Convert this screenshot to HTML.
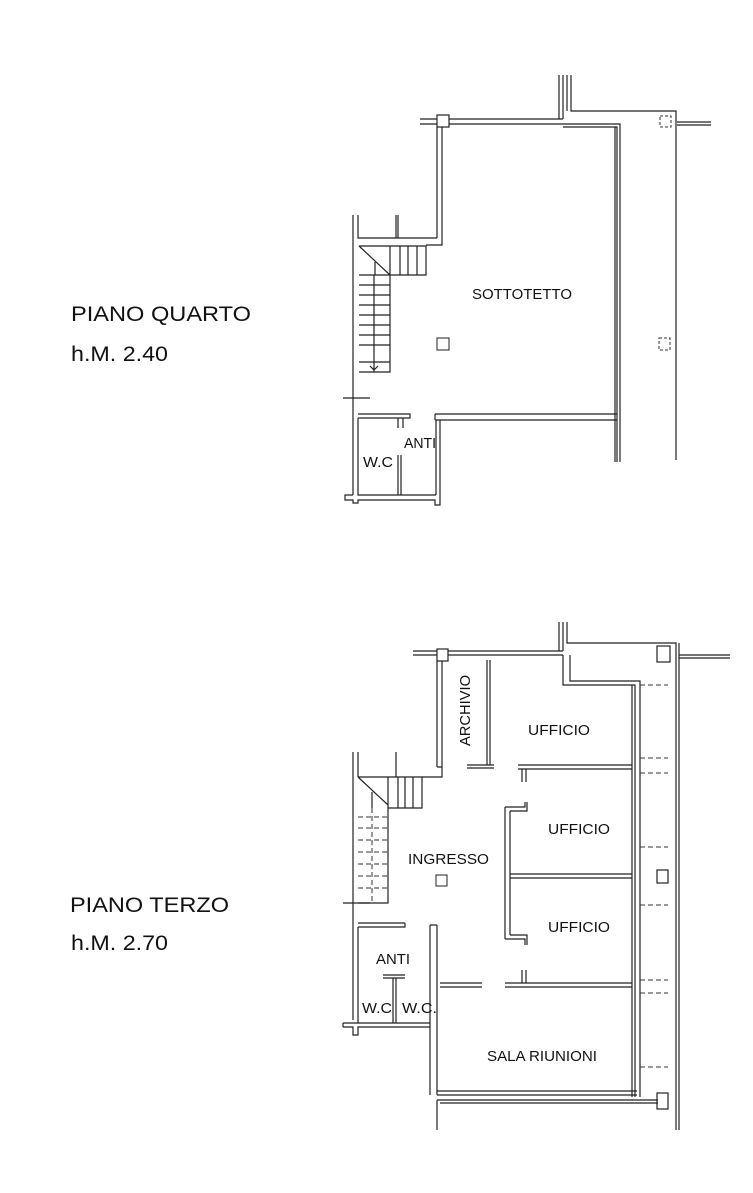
<!DOCTYPE html>
<html><head><meta charset="utf-8"><style>
html,body{margin:0;padding:0;background:#fff;}
svg{display:block;}
text{font-family:"Liberation Sans",sans-serif;fill:#111;}
</style></head><body>
<svg width="753" height="1193" viewBox="0 0 753 1193" xmlns="http://www.w3.org/2000/svg">
<g fill="none" stroke="#222" stroke-width="1.2">
<path d="M420 119 H563 M420 124 H563"/>
<rect x="437" y="115" width="12" height="12" fill="#fff"/>
<path d="M437 127 V238 M442 127 V245 H426"/>
<path d="M353 215 V415 M358 215 V238 H437 M396 215 V238 M398 215 V238"/>
<path d="M359 246 H426 V275 H390 V372 H359"/>
<path d="M359 246 L390 275 M375 262 V275 M390 246 V275 M400 246 V275 M408 246 V275 M417 246 V275"/>
<path d="M359 275 H390 M359 285 H390 M359 295 H390 M359 305 H390 M359 315 H390 M359 325 H390 M359 335 H390 M359 345 H390 M359 362 H390 M374 275 V372 M370 366 L374 370 L378 366"/>
<path d="M343 398 H370"/>
<path d="M559 75 V119 M563 75 V119 M567 75 V111 M571 75 V111 H676 V460 M677 122 H711 M677 125 H711"/>
<path d="M563 124 H620 V462 M563 127 H617 V462 M615 127 V462"/>
<path d="M358 414 H410 V418 H358 M435 414 H617 M435 420 H617 M435 414 V420"/>
<path d="M353 415 V495 M358 418 V495 H436 M353 495 H345 V500 H353 V503 H358 V500 H435 V505 H440 V420 M436 420 V495"/>
<path d="M398 455 V495 M401 455 V495 M398 418 V428 M403 418 V428"/>
</g>
<g fill="none" stroke="#333" stroke-width="1" stroke-dasharray="3,2">
<rect x="660" y="116" width="11" height="11"/>
<rect x="659" y="338" width="11" height="12"/>
</g>
<rect x="437" y="338" width="12" height="12" fill="none" stroke="#222"/>

<g fill="none" stroke="#222" stroke-width="1.2">
<path d="M413 651 H563 M413 655 H563"/>
<rect x="437" y="649" width="11" height="12" fill="#fff"/>
<path d="M559 622 V651 M563 622 V651 M567 622 V643 H676 V1130 M679 643 V1130 M679 655 H730 M679 658 H730"/>
<path d="M563 655 V685 H570 M570 655 V681 H640 V1097 M570 685 H635 V1097 M632 685 V1097"/>
<rect x="657" y="646" width="13" height="16" fill="#fff"/>
<rect x="657" y="870" width="11" height="13" fill="#fff"/>
<rect x="657" y="1093" width="11" height="16" fill="#fff"/>
<path d="M487 660 V765 M490 660 V765 M467 765 H494 M467 768 H494"/>
<path d="M437 661 V767 M442 661 V777 H422 M437 767 H442"/>
<path d="M353 752 V1020 M358 752 V777 M396 752 V777"/>
<path d="M358 777 H422 V808 H388 V903 H358"/>
<path d="M358 777 L388 805 M372 792 V808 M388 777 V808 M398 777 V808 M405 777 V808 M413 777 V808"/>
<path d="M343 903 H370"/>
<path d="M518 765 H632 M518 769 H632 M522 769 V782 M526 769 V782"/>
<path d="M505 807 V939 M510 811 V935 M505 807 H525 V802 M510 811 H527 V802 M505 939 H525 V945 M510 935 H527 V945"/>
<path d="M510 874 H632 M510 878 H632"/>
<path d="M505 983 H632 M505 987 H632 M522 970 V983 M526 970 V983"/>
<path d="M440 983 H482 M440 987 H482"/>
<path d="M358 923 H405 M358 927 H405 V923"/>
<path d="M430 925 V1095 M437 925 V1095 M430 925 H437"/>
<path d="M358 927 V1023 M383 975 H405 M383 978 H405 M393 978 V1023 M396 978 V1023"/>
<path d="M343 1023 H430 M343 1027 H353 V1035 H358 V1027 H430 M343 1023 V1027"/>
<path d="M437 1095 H637 M437 1091 H637 M437 1100 H658 M437 1100 V1130 M440 1103 H658"/>
</g>
<g fill="none" stroke="#333" stroke-width="1" stroke-dasharray="5,3">
<path d="M640 685 H668 M640 758 H668 M640 773 H668 M640 847 H668 M640 905 H668 M640 980 H668 M640 993 H668 M640 1067 H668"/>
<path d="M358 817 H388 M358 828 H388 M358 840 H388 M358 852 H388 M358 864 H388 M358 876 H388 M358 888 H388 M372 808 V903"/>
</g>
<rect x="436" y="875" width="11" height="11" fill="none" stroke="#222"/>

<text x="71" y="321" font-size="21" textLength="180" lengthAdjust="spacingAndGlyphs">PIANO QUARTO</text>
<text x="71" y="361" font-size="21" textLength="97" lengthAdjust="spacingAndGlyphs">h.M. 2.40</text>
<text x="70" y="912" font-size="21" textLength="159" lengthAdjust="spacingAndGlyphs">PIANO TERZO</text>
<text x="71" y="950" font-size="21" textLength="97" lengthAdjust="spacingAndGlyphs">h.M. 2.70</text>
<g font-size="15">
<text x="472" y="299" textLength="100" lengthAdjust="spacingAndGlyphs">SOTTOTETTO</text>
<text x="404" y="448" textLength="32" lengthAdjust="spacingAndGlyphs">ANTI</text>
<text x="363" y="467" textLength="30" lengthAdjust="spacingAndGlyphs">W.C</text>
<text x="528" y="735" textLength="62" lengthAdjust="spacingAndGlyphs">UFFICIO</text>
<text x="548" y="834" textLength="62" lengthAdjust="spacingAndGlyphs">UFFICIO</text>
<text x="548" y="932" textLength="62" lengthAdjust="spacingAndGlyphs">UFFICIO</text>
<text x="408" y="864" textLength="81" lengthAdjust="spacingAndGlyphs">INGRESSO</text>
<text x="376" y="964" textLength="34" lengthAdjust="spacingAndGlyphs">ANTI</text>
<text x="362" y="1013" textLength="30" lengthAdjust="spacingAndGlyphs">W.C</text>
<text x="402" y="1013" textLength="35" lengthAdjust="spacingAndGlyphs">W.C.</text>
<text x="487" y="1061" textLength="110" lengthAdjust="spacingAndGlyphs">SALA RIUNIONI</text>
<text transform="translate(470,746) rotate(-90)" textLength="71" lengthAdjust="spacingAndGlyphs">ARCHIVIO</text>
</g>
</svg>
</body></html>
